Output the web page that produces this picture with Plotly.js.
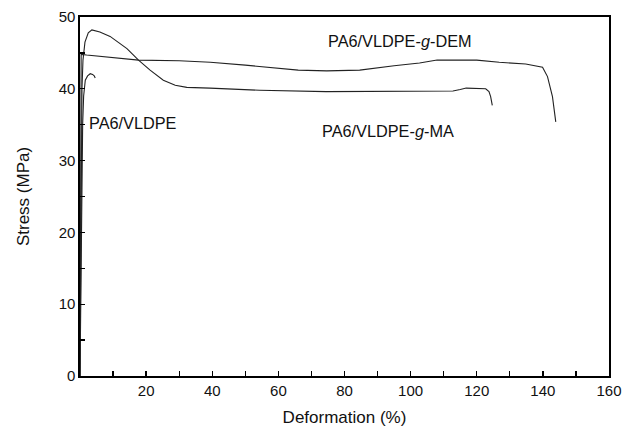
<!DOCTYPE html>
<html>
<head>
<meta charset="utf-8">
<script src="https://cdn.plot.ly/plotly-3.0.1.min.js"></script>
<style>html,body{margin:0;padding:0;background:#fff;}#chart{width:622px;height:436px;}</style>
</head>
<body>
<div id="chart"></div>
<script>
// PA6/VLDPE-g-DEM
var demX = [0, 0.15, 0.3, 0.35, 2, 10, 17.7, 30, 39.4, 50, 54.4, 60, 66, 74.6, 84.6, 95, 102.7, 108, 114.7, 120, 126.8, 134.8, 139.9, 141.4, 142.9, 143.9];
var demY = [0, 20, 40, 44.8, 44.7, 44.3, 44.0, 43.9, 43.7, 43.3, 43.1, 42.8, 42.6, 42.5, 42.6, 43.2, 43.6, 44.0, 44.0, 44.0, 43.7, 43.45, 43.0, 41.7, 38.9, 35.4];
// PA6/VLDPE-g-MA
var maX = [0, 0.3, 0.6, 0.9, 1.5, 2.5, 3.6, 6, 9.1, 14.2, 17.7, 21.2, 25.2, 28.8, 32.3, 39.3, 54.3, 74.4, 94.6, 108, 112.8, 115, 116.8, 122.7, 123.7, 124.2, 124.7];
var maY = [0, 20, 40, 44, 46.5, 47.8, 48.2, 47.9, 47.3, 45.6, 44.0, 42.6, 41.2, 40.5, 40.2, 40.1, 39.8, 39.6, 39.6, 39.6, 39.7, 39.9, 40.1, 40.0, 39.6, 38.9, 37.7];
// PA6/VLDPE
var vlX = [0, 0.4, 0.8, 1.1, 1.6, 2.3, 3.1, 3.8, 4.3, 4.6];
var vlY = [0, 20, 35, 39, 41.2, 41.8, 42.1, 42.0, 41.8, 41.5];

var xTickVals = [10, 20, 30, 40, 50, 60, 70, 80, 90, 100, 110, 120, 130, 140, 150, 160];
var xTickText = ["", "20", "", "40", "", "60", "", "80", "", "100", "", "120", "", "140", "", "160"];
var yTickVals = [0, 5, 10, 15, 20, 25, 30, 35, 40, 45, 50];
var yTickText = ["0", "", "10", "", "20", "", "30", "", "40", "", "50"];

var labels = [
  {text: "PA6/VLDPE-<i>g</i>-DEM", x: 96.8, y: 46.7},
  {text: "PA6/VLDPE-<i>g</i>-MA", x: 93.2, y: 34.1},
  {text: "PA6/VLDPE", x: 16.0, y: 35.2}
];

var lineStyle = {color: "#222", width: 1.1};
var traces = [
  {x: demX, y: demY, mode: "lines", line: lineStyle, name: "PA6/VLDPE-g-DEM"},
  {x: maX, y: maY, mode: "lines", line: lineStyle, name: "PA6/VLDPE-g-MA"},
  {x: vlX, y: vlY, mode: "lines", line: lineStyle, name: "PA6/VLDPE"}
];

var font = {family: "Liberation Sans, Arial, sans-serif", color: "#111"};

var layout = {
  width: 622, height: 436,
  margin: {l: 80, r: 13, t: 17, b: 60},
  paper_bgcolor: "#fff", plot_bgcolor: "#fff",
  showlegend: false,
  font: font,
  xaxis: {
    range: [0, 160], showgrid: false, zeroline: false,
    showline: true, linecolor: "#000", linewidth: 1.6, mirror: true,
    ticks: "inside", ticklen: 5, tickwidth: 1.3, tickcolor: "#000",
    tickmode: "array", tickvals: xTickVals, ticktext: xTickText,
    ticklabeloverflow: "allow",
    tickfont: {family: font.family, size: 15, color: "#111"},
    title: {text: "Deformation (%)", font: {family: font.family, size: 17, color: "#111"}, standoff: 13}
  },
  yaxis: {
    range: [0, 50], showgrid: false, zeroline: false,
    showline: true, linecolor: "#000", linewidth: 1.6, mirror: true,
    ticks: "inside", ticklen: 5, tickwidth: 1.3, tickcolor: "#000",
    tickmode: "array", tickvals: yTickVals, ticktext: yTickText,
    ticklabeloverflow: "allow",
    tickfont: {family: font.family, size: 15, color: "#111"},
    title: {text: "Stress (MPa)", font: {family: font.family, size: 17, color: "#111"}, standoff: 25}
  },
  annotations: labels.map(function (l) {
    return {text: l.text, x: l.x, y: l.y, xref: "x", yref: "y", showarrow: false,
      font: {family: font.family, size: 16.3, color: "#111"}};
  })
};

Plotly.newPlot("chart", traces, layout, {displayModeBar: false, staticPlot: true});
</script>
</body>
</html>
